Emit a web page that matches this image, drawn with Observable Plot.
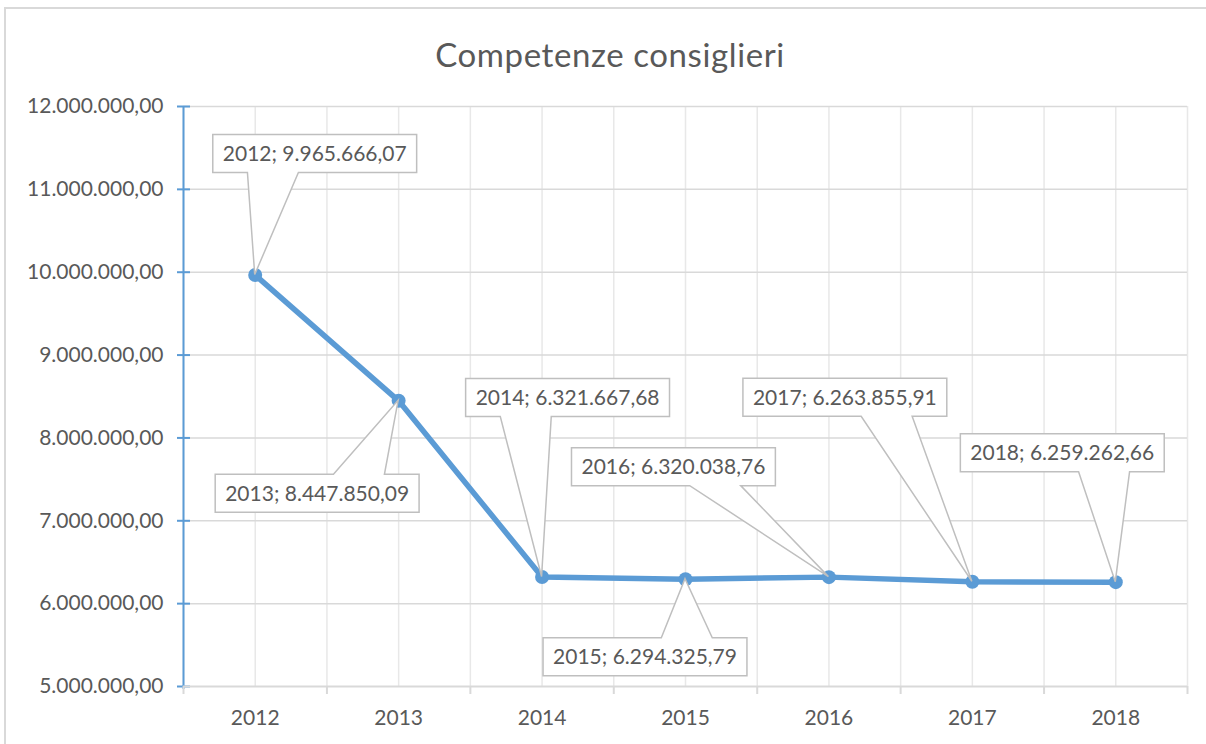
<!DOCTYPE html>
<html>
<head>
<meta charset="utf-8">
<script src="https://cdn.jsdelivr.net/npm/d3@7"></script>
<script src="https://cdn.jsdelivr.net/npm/@observablehq/plot@0.6"></script>
<style>
  html, body { margin: 0; padding: 0; background: #fff; overflow: hidden; width: 1206px; height: 744px; }
  #frame { position: absolute; left: 4px; top: 7px; width: 1210px; height: 745px;
           border-top: 2px solid #d9d9d9; border-left: 2px solid #d9d9d9; }
  #title { position: absolute; left: 0; top: 34px; width: 1220px; text-align: center;
           font-family: Lato, sans-serif; font-size: 33px; line-height: 40px; color: #595959; letter-spacing: 0.6px; }
  #chart { position: absolute; left: 0; top: 90px; }
</style>
</head>
<body>
<div id="frame"></div>
<div id="title">Competenze consiglieri</div>
<div id="chart"></div>
<script>
// ---- data ----
const years = [2012, 2013, 2014, 2015, 2016, 2017, 2018];
const values = [9965666.07, 8447850.09, 6321667.68, 6294325.79, 6320038.76, 6263855.91, 6259262.66];
const yTicks = [5000000, 6000000, 7000000, 8000000, 9000000, 10000000, 11000000, 12000000];

// ---- callout layout (pixel offset of label box centre from its point) ----
const calloutOffsets = [[60, -121], [-81, 93], [26, -179], [-40, 78], [-155, -110], [-127, -184], [-53, -129]];

const blue = "#5B9BD5";
const textColor = "#595959";
const fontSize = 21;
const fmt = d3.formatLocale({decimal: ",", thousands: ".", grouping: [3], currency: ["", ""]}).format(",.2f");

const data = years.map((year, i) => ({year, value: values[i], offset: calloutOffsets[i]}));
const boundaries = [...years.map(y => y - 0.5), years[years.length - 1] + 0.5];
const x0 = boundaries[0];

function callouts(index, scales) {
  const x = scales.x, y = scales.y;
  const g = d3.create("svg:g");
  const ctx = document.createElement("canvas").getContext("2d");
  ctx.font = `${fontSize}px Lato`;
  const pad = 10, h = 38;
  data.forEach(d => {
    const label = `${d.year}; ${fmt(d.value)}`;
    const px = x(d.year), py = y(d.value);
    const [dx, dy] = d.offset;
    const w = ctx.measureText(label).width + 2 * pad;
    const cx = px + dx, cy = py + dy;
    const L = cx - w / 2, R = cx + w / 2, T = cy - h / 2, B = cy + h / 2;
    const f = px > cx ? [0.58, 0.83] : [0.17, 0.42];
    const b1 = L + f[0] * w, b2 = L + f[1] * w;
    const path = py > B
      ? `M${L},${T}H${R}V${B}H${b2}L${px},${py}L${b1},${B}H${L}Z`
      : `M${L},${T}H${b1}L${px},${py}L${b2},${T}H${R}V${B}H${L}Z`;
    g.append("path").attr("d", path).attr("fill", "white").attr("stroke", "#bfbfbf").attr("stroke-width", 1.5);
    g.append("text").attr("x", cx).attr("y", cy).attr("dy", "0.36em").attr("text-anchor", "middle")
      .attr("fill", textColor).attr("font-family", "Lato, sans-serif").attr("font-size", fontSize).text(label);
  });
  return g.node();
}

const chart = Plot.plot({
  width: 1206,
  height: 654,
  marginLeft: 183,
  marginRight: 19,
  marginTop: 16,
  marginBottom: 58,
  x: {domain: [boundaries[0], boundaries[boundaries.length - 1]], axis: null},
  y: {domain: [yTicks[0], yTicks[yTicks.length - 1]], axis: null},
  style: {background: "transparent", fontFamily: "Lato, sans-serif", overflow: "visible"},
  marks: [
    Plot.ruleX([...years, ...boundaries], {stroke: "#e8e8e8", strokeWidth: 1.5}),
    Plot.ruleY(yTicks.slice(1), {stroke: "#d9d9d9", strokeWidth: 1.5}),
    Plot.ruleX([x0], {y1: yTicks[0], y2: yTicks[yTicks.length - 1], insetTop: 3, stroke: blue, strokeWidth: 2}),
    Plot.ruleY(yTicks, {x1: x0, x2: x0, insetLeft: -6, insetRight: -7, stroke: blue, strokeWidth: 2}),
    Plot.ruleY([yTicks[0]], {stroke: "#d9d9d9", strokeWidth: 2}),
    Plot.ruleX(boundaries, {y1: yTicks[0], y2: yTicks[0], insetBottom: -8, stroke: "#d9d9d9", strokeWidth: 2}),
    Plot.text(yTicks, {x: x0, y: d => d, text: d => fmt(d), textAnchor: "end", dx: -20, fill: textColor, fontSize}),
    Plot.text(years, {x: d => d, y: yTicks[0], text: d => String(d), dy: 32, fill: textColor, fontSize}),
    Plot.line(data, {x: "year", y: "value", stroke: blue, strokeWidth: 5.5}),
    Plot.dot(data, {x: "year", y: "value", r: 7, fill: blue}),
    callouts
  ]
});
document.getElementById("chart").appendChild(chart);
</script>
</body>
</html>
